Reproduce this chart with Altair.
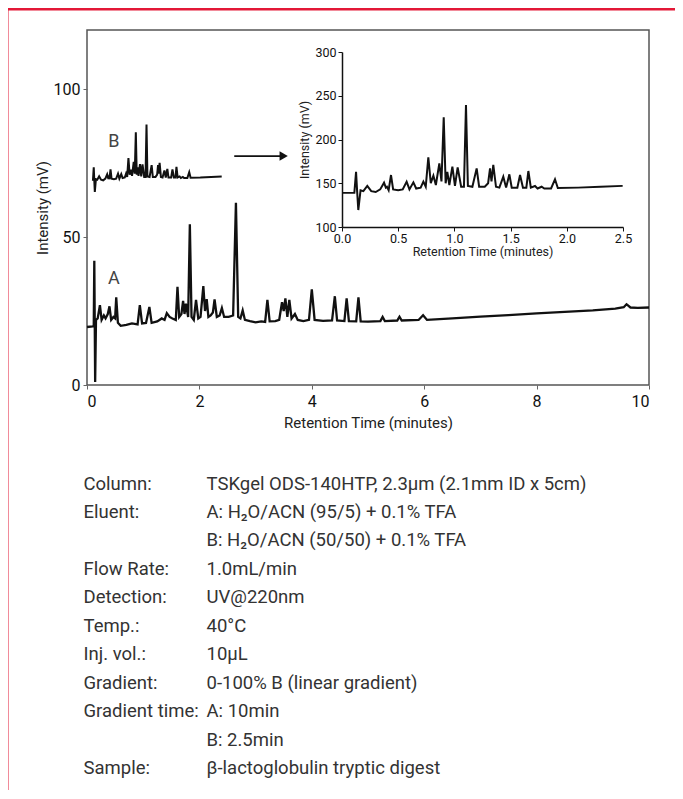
import altair as alt
import pandas as pd

FONT = "Roboto, Liberation Sans, Arial"

# ---- Chromatogram A (10 min gradient) ----
a_time = [0.00, 0.10, 0.12, 0.13, 0.145, 0.16, 0.19, 0.23, 0.26, 0.30, 0.33, 0.37, 0.40, 0.43,
          0.47, 0.50, 0.52, 0.55, 0.60, 0.70, 0.80, 0.90, 0.94, 0.98, 1.05, 1.11, 1.15, 1.25,
          1.33, 1.38, 1.42, 1.47, 1.52, 1.58, 1.61, 1.64, 1.68, 1.71, 1.735, 1.76, 1.80, 1.83,
          1.86, 1.90, 1.94, 1.98, 2.02, 2.07, 2.10, 2.13, 2.16, 2.20, 2.24, 2.27, 2.31, 2.36,
          2.40, 2.44, 2.52, 2.60, 2.65, 2.69, 2.73, 2.77, 2.81, 2.90, 3.00, 3.10, 3.17, 3.21,
          3.25, 3.35, 3.42, 3.47, 3.50, 3.53, 3.565, 3.60, 3.64, 3.70, 3.75, 3.85, 3.95, 4.00,
          4.05, 4.20, 4.36, 4.41, 4.45, 4.58, 4.62, 4.66, 4.79, 4.83, 4.87, 5.00, 5.22, 5.26,
          5.30, 5.52, 5.56, 5.60, 5.90, 5.98, 6.05, 6.50, 7.00, 7.50, 8.00, 8.50, 9.00, 9.40,
          9.55, 9.60, 9.67, 9.80, 10.00]
a_mv = [19.6, 19.8, 20.0, 42.0, 1.0, 22.0, 22.5, 27.0, 22.0, 23.5, 22.5, 24.0, 26.6, 22.0,
        23.0, 22.5, 29.6, 21.0, 20.0, 20.3, 20.8, 20.5, 27.0, 20.8, 21.0, 26.4, 21.0, 21.5,
        22.5, 22.0, 24.3, 23.0, 22.5, 22.0, 33.2, 23.0, 24.0, 28.4, 24.0, 27.5, 23.0, 54.3,
        23.0, 22.0, 28.8, 22.5, 23.0, 33.4, 25.0, 29.0, 23.0, 23.5, 24.5, 28.9, 23.0, 23.5,
        26.0, 23.0, 23.0, 23.5, 61.6, 23.0, 22.5, 25.2, 22.0, 21.6, 21.2, 21.5, 21.3, 28.8,
        21.5, 21.6, 22.0, 28.0, 25.0, 29.3, 23.0, 28.8, 22.5, 24.0, 22.0, 21.6, 22.0, 32.3,
        22.0, 21.7, 21.8, 30.0, 21.8, 21.6, 29.3, 21.6, 21.5, 29.6, 21.5, 21.4, 21.6, 23.0,
        21.6, 21.8, 23.1, 21.8, 22.0, 23.6, 22.0, 22.5, 23.1, 23.6, 24.2, 24.7, 25.2, 25.8,
        26.3, 27.3, 26.2, 26.1, 26.2]

# ---- Chromatogram B (2.5 min gradient, inset) ----
b_time = [0.00, 0.11, 0.125, 0.135, 0.145, 0.165, 0.19, 0.225, 0.26, 0.30, 0.34, 0.374, 0.39,
          0.40, 0.415, 0.436, 0.455, 0.50, 0.54, 0.575, 0.60, 0.635, 0.66, 0.70, 0.724, 0.745,
          0.768, 0.79, 0.813, 0.835, 0.866, 0.885, 0.905, 0.922, 0.937, 0.955, 0.982, 1.005,
          1.029, 1.06, 1.085, 1.103, 1.12, 1.16, 1.198, 1.22, 1.27, 1.30, 1.317, 1.33, 1.346,
          1.37, 1.40, 1.435, 1.46, 1.489, 1.51, 1.56, 1.584, 1.61, 1.64, 1.658, 1.68, 1.717,
          1.74, 1.776, 1.80, 1.86, 1.895, 1.92, 2.10, 2.30, 2.497]
b_mv = [139.0, 139.2, 163.0, 140.0, 119.4, 142.0, 141.0, 147.0, 141.0, 140.0, 143.0, 150.7,
        145.0, 146.0, 142.0, 159.4, 143.0, 142.0, 143.0, 151.8, 143.0, 151.0, 144.0, 145.0,
        151.8, 146.0, 179.6, 150.0, 158.7, 148.0, 172.8, 152.0, 225.3, 150.0, 163.0, 148.0,
        169.0, 147.0, 168.2, 146.0, 146.0, 239.4, 147.0, 146.0, 167.0, 146.0, 146.0, 150.0,
        167.0, 152.0, 170.9, 146.0, 145.0, 157.5, 145.0, 160.2, 145.0, 145.0, 159.4, 145.0,
        145.0, 164.0, 145.0, 146.9, 144.0, 146.0, 144.0, 144.0, 154.5, 144.5, 145.0, 146.0,
        147.0]

# ---- Conditions text ----
cond_labels = ["Column:", "Eluent:", "", "Flow Rate:", "Detection:", "Temp.:", "Inj. vol.:",
               "Gradient:", "Gradient time:", "", "Sample:"]
cond_values = ["TSKgel ODS-140HTP, 2.3µm (2.1mm ID x 5cm)",
               "A: H₂O/ACN (95/5) + 0.1% TFA",
               "B: H₂O/ACN (50/50) + 0.1% TFA",
               "1.0mL/min", "UV@220nm", "40°C", "10µL",
               "0-100% B (linear gradient)", "A: 10min", "B: 2.5min",
               "β-lactoglobulin tryptic digest"]

# ---- tables ----
dfA = pd.DataFrame({"t": a_time, "mv": a_mv})
dfB = pd.DataFrame({"t": b_time, "mv": b_mv})
# miniature of trace B drawn in the main chart's coordinates
dfBm = dfB[dfB.t >= 0.09].copy()
dfBm["t"] = dfBm["t"] * 0.96
dfBm["mv"] = 69 + (dfBm["mv"] - 139) * 0.19
dfCond = pd.DataFrame({"row": list(range(len(cond_labels))),
                       "label": cond_labels, "value": cond_values})
dfLetters = pd.DataFrame({"t": [0.48, 0.48], "mv": [82, 36], "txt": ["B", "A"]})
dfArrow = pd.DataFrame({"t": [2.62], "t2": [3.45], "mv": [77.4]})
dfHead = pd.DataFrame({"t": [3.5], "mv": [77.4]})

MAIN_X = alt.Scale(domain=[0, 10], nice=False)
MAIN_Y = alt.Scale(domain=[0, 120], nice=False)

W, H = 562, 355
one = pd.DataFrame({"a": [0]})

red_left = alt.Chart(one).mark_rule(color="#E31837", strokeWidth=3).encode(
    x=alt.value(-80), y=alt.value(-21), y2=alt.value(780))
red_top = alt.Chart(one).mark_rule(color="#E31837", strokeWidth=3).encode(
    x=alt.value(-81.5), x2=alt.value(620), y=alt.value(-21))

lineA = alt.Chart(dfA).mark_line(color="#111", strokeWidth=2.3).encode(
    x=alt.X("t:Q", scale=MAIN_X,
            axis=alt.Axis(values=[0, 2, 4, 6, 8, 10], title="Retention Time (minutes)",
                          labelFontSize=16, titleFontSize=15, titleFontWeight="normal",
                          domain=False, tickSize=4, tickColor="#666", labelPadding=4,
                          titlePadding=6, labelColor="#111", titleColor="#222", grid=False)),
    y=alt.Y("mv:Q", scale=MAIN_Y,
            axis=alt.Axis(values=[0, 50, 100], title="Intensity (mV)",
                          labelFontSize=16, titleFontSize=15, titleFontWeight="normal",
                          domain=False, tickSize=4, tickColor="#666", labelPadding=3,
                          titlePadding=3, labelColor="#111", titleColor="#222", grid=False)),
    order="t:Q")

lineBm = alt.Chart(dfBm).mark_line(color="#111", strokeWidth=2).encode(
    x=alt.X("t:Q", scale=MAIN_X, axis=None),
    y=alt.Y("mv:Q", scale=MAIN_Y, axis=None),
    order="t:Q")

letters = alt.Chart(dfLetters).mark_text(fontSize=18, color="#444", font=FONT).encode(
    x=alt.X("t:Q", scale=MAIN_X, axis=None),
    y=alt.Y("mv:Q", scale=MAIN_Y, axis=None),
    text="txt:N")

arrow = alt.Chart(dfArrow).mark_rule(color="#111", strokeWidth=1.8).encode(
    x=alt.X("t:Q", scale=MAIN_X, axis=None), x2="t2:Q",
    y=alt.Y("mv:Q", scale=MAIN_Y, axis=None))
head = alt.Chart(dfHead).mark_point(shape="triangle-right", filled=True, size=90,
                                    color="#111", opacity=1).encode(
    x=alt.X("t:Q", scale=MAIN_X, axis=None),
    y=alt.Y("mv:Q", scale=MAIN_Y, axis=None))

inset = alt.Chart(dfB).mark_line(color="#111", strokeWidth=2).encode(
    x=alt.X("t:Q", scale=alt.Scale(domain=[0, 2.5], range=[255, 536], nice=False),
            axis=alt.Axis(orient="bottom", offset=-158, values=[0, 0.5, 1, 1.5, 2, 2.5],
                          format=".1f", title="Retention Time (minutes)",
                          labelFontSize=12.5, titleFontSize=12.5, titleFontWeight="normal",
                          domainColor="#111", domainWidth=1.5, tickColor="#111",
                          tickSize=4, labelPadding=1, titlePadding=1,
                          labelColor="#111", titleColor="#222", grid=False,
                          labelFlush=False)),
    y=alt.Y("mv:Q", scale=alt.Scale(domain=[100, 300], range=[197, 22], nice=False),
            axis=alt.Axis(orient="left", offset=-255, values=[100, 150, 200, 250, 300],
                          title="Intensity (mV)",
                          labelFontSize=12.5, titleFontSize=12.5, titleFontWeight="normal",
                          domainColor="#111", domainWidth=1.5, tickColor="#111",
                          tickSize=4, labelPadding=2, titlePadding=3,
                          labelColor="#111", titleColor="#222", grid=False,
                          labelFlush=False)),
    order="t:Q")

COND_Y = alt.Scale(domain=[0, 10], range=[453.5, 738], nice=False)
cond_lab = alt.Chart(dfCond).mark_text(align="left", baseline="middle", fontSize=18.5,
                                       color="#333", font=FONT).encode(
    x=alt.value(-3.5), y=alt.Y("row:Q", scale=COND_Y, axis=None), text="label:N")
cond_val = alt.Chart(dfCond).mark_text(align="left", baseline="middle", fontSize=18.5,
                                       color="#333", font=FONT).encode(
    x=alt.value(119.5), y=alt.Y("row:Q", scale=COND_Y, axis=None), text="value:N")

chart = alt.layer(
    red_left, red_top, lineA, lineBm, letters, arrow, head, inset, cond_lab, cond_val
).resolve_scale(x="independent", y="independent").properties(
    width=W, height=H,
    autosize=alt.AutoSizeParams(type="none"),
    padding={"left": 79, "top": 22, "right": 26, "bottom": 405},
    background="white",
).configure_view(stroke="#555", strokeWidth=1.5).configure_axis(
    labelFont=FONT, titleFont=FONT
)

chart.save("out.html", embed_options={"renderer": "svg", "actions": False})
